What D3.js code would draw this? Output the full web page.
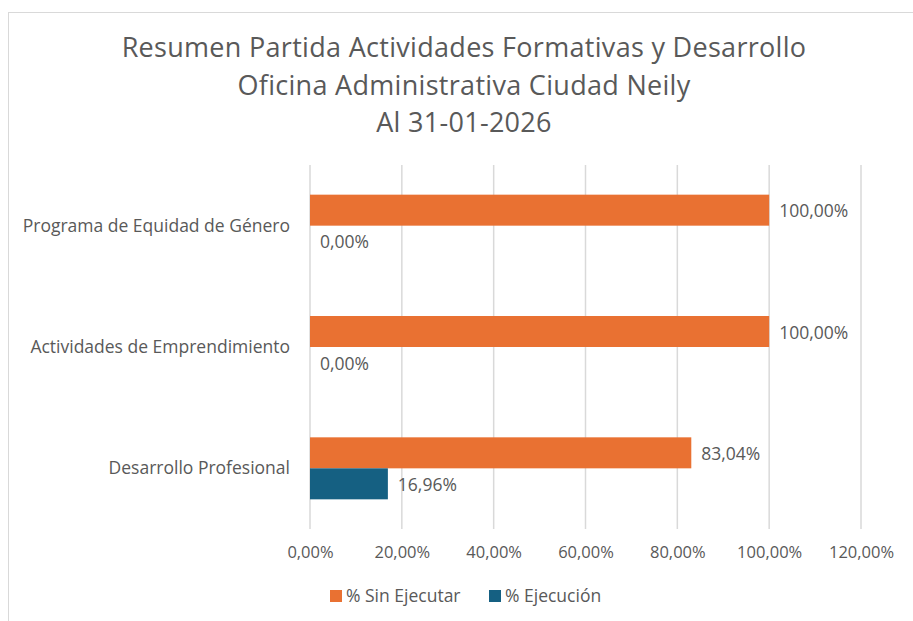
<!DOCTYPE html>
<html>
<head>
<meta charset="utf-8">
<script src="https://cdn.jsdelivr.net/npm/d3@7"></script>
<style>
  body { margin: 0; background: #fff; }
  text { font-family: "Open Sans", "Liberation Sans", sans-serif; fill: #595959; }
</style>
</head>
<body>
<div id="chart"></div>
<script>
// data
var categories = ["Programa de Equidad de Género", "Actividades de Emprendimiento", "Desarrollo Profesional"];
var seriesNames = ["% Sin Ejecutar", "% Ejecución"];
var sinEjecutar = [100.00, 100.00, 83.04];
var ejecucion = [0.00, 0.00, 16.96];
var tickValues = [0, 20, 40, 60, 80, 100, 120];
var titleLines = ["Resumen Partida Actividades Formativas y Desarrollo", "Oficina Administrativa Ciudad Neily", "Al 31-01-2026"];
var colors = ["#E97132", "#156082"];

var width = 913, height = 621;
var svg = d3.select("#chart").append("svg")
  .attr("width", width)
  .attr("height", height);

// chart border (runs off the right and bottom edges)
svg.append("rect")
  .attr("x", 8.5).attr("y", 12.5)
  .attr("width", 1000).attr("height", 700)
  .attr("fill", "none")
  .attr("stroke", "#d9d9d9");

// title
svg.append("g").selectAll("text")
  .data(titleLines)
  .enter().append("text")
    .attr("x", 464)
    .attr("y", function(d, i) { return 57 + i * 37.5; })
    .attr("text-anchor", "middle")
    .style("font-size", "27px")
    .style("letter-spacing", "0.3px")
    .text(function(d) { return d; });

var margin = {left: 310, right: 52, top: 165, bottom: 92};

var x = d3.scaleLinear()
  .domain([0, 120])
  .range([margin.left, width - margin.right]);

var y = d3.scaleBand()
  .domain(categories)
  .range([margin.top, height - margin.bottom]);

var ySub = d3.scaleBand()
  .domain(seriesNames)
  .range([0, y.bandwidth()])
  .paddingOuter(0.957);

// gridlines
svg.append("g").selectAll("line")
  .data(tickValues)
  .enter().append("line")
    .attr("x1", function(d) { return x(d); })
    .attr("x2", function(d) { return x(d); })
    .attr("y1", margin.top)
    .attr("y2", height - margin.bottom)
    .attr("stroke", "#d9d9d9")
    .attr("stroke-width", 1.5);

// x axis labels
var fmt = function(d) { return d3.format(".2f")(d).replace(".", ",") + "%"; };
var xAxis = svg.append("g")
  .attr("transform", "translate(0," + (height - margin.bottom) + ")")
  .call(d3.axisBottom(x).tickValues(tickValues).tickFormat(fmt).tickSize(0).tickPadding(17));
xAxis.select(".domain").remove();
xAxis.selectAll("text")
  .style("font-size", "16.5px")
  .style("font-family", "'Open Sans', sans-serif")
  .style("fill", "#595959");

// category labels
svg.append("g").selectAll("text")
  .data(categories)
  .enter().append("text")
    .attr("x", margin.left - 20)
    .attr("y", function(d) { return y(d) + y.bandwidth() / 2; })
    .attr("dy", "0.35em")
    .attr("text-anchor", "end")
    .style("font-size", "17.5px")
    .text(function(d) { return d; });

// bars
var rows = categories.map(function(c, i) {
  return [
    {cat: c, s: seriesNames[0], v: sinEjecutar[i], color: colors[0]},
    {cat: c, s: seriesNames[1], v: ejecucion[i], color: colors[1]}
  ];
});
var flat = d3.merge(rows);

svg.append("g").selectAll("rect")
  .data(flat)
  .enter().append("rect")
    .attr("x", x(0))
    .attr("y", function(d) { return y(d.cat) + ySub(d.s); })
    .attr("width", function(d) { return x(d.v) - x(0); })
    .attr("height", ySub.bandwidth())
    .attr("fill", function(d) { return d.color; });

// data labels
svg.append("g").selectAll("text")
  .data(flat)
  .enter().append("text")
    .attr("x", function(d) { return x(d.v) + 10; })
    .attr("y", function(d) { return y(d.cat) + ySub(d.s) + ySub.bandwidth() / 2 + 1; })
    .attr("dy", "0.35em")
    .style("font-size", "17.5px")
    .text(function(d) { return fmt(d.v); });

// legend
var legend = svg.append("g").attr("transform", "translate(330,590)");
var lx = [0, 159];
legend.selectAll("rect")
  .data(seriesNames)
  .enter().append("rect")
    .attr("x", function(d, i) { return lx[i]; })
    .attr("y", 0)
    .attr("width", 12).attr("height", 12)
    .attr("fill", function(d, i) { return colors[i]; });
legend.selectAll("text")
  .data(seriesNames)
  .enter().append("text")
    .attr("x", function(d, i) { return lx[i] + 16; })
    .attr("y", 6)
    .attr("dy", "0.35em")
    .style("font-size", "17.5px")
    .text(function(d) { return d; });
</script>
</body>
</html>
